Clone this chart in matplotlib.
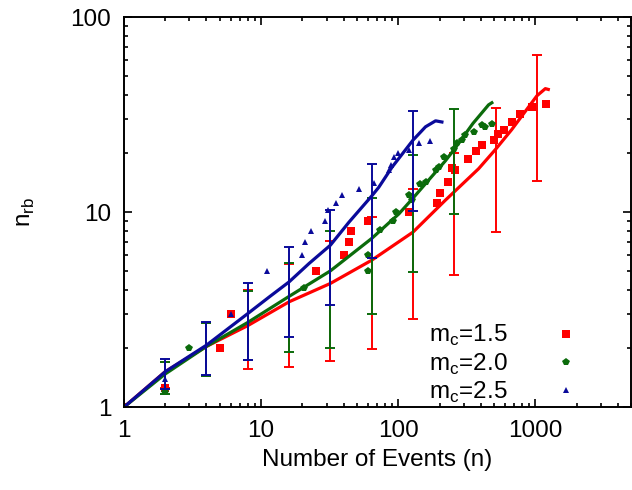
import matplotlib
matplotlib.use('Agg')
import matplotlib.pyplot as plt
from matplotlib.ticker import FixedLocator, FixedFormatter, LogLocator, NullFormatter

plt.rcParams['font.family'] = ['Liberation Sans', 'DejaVu Sans']

RED = '#ff0000'
GREEN = '#0b6b0b'
BLUE = '#0a0a9a'

# m_c = 1.5 (red squares)
red_x = [1, 2, 5, 6, 25, 40, 44, 45, 60, 120, 190, 200, 230, 245, 260, 320, 370,
         410, 500, 530, 590, 670, 770, 940, 1200]
red_y = [1.0, 1.25, 2.0, 3.0, 5.0, 6.0, 7.0, 8.0, 9.0, 10.0, 11.2, 12.5, 14.3, 16.8,
         16.5, 18.7, 20.6, 22.0, 23.4, 25.3, 26.4, 29.0, 32.0, 34.7, 35.8]
red_curve_x = [1, 2, 4, 8, 16, 32, 64, 128, 220, 385, 512, 671, 1024, 1180, 1240]
red_curve_y = [1.0, 1.52, 2.05, 2.62, 3.47, 4.31, 5.67, 7.9, 11.5, 16.7, 21.0, 26.5,
               39.5, 43.0, 42.6]
red_err_x = [2, 4, 8, 16, 32, 64, 128, 256, 512, 1024]
red_err_lo = [1.25, 1.45, 1.57, 1.60, 1.73, 1.98, 2.83, 4.75, 7.93, 14.4]
red_err_hi = [1.70, 2.70, 4.00, 5.40, 7.13, 9.5, 13.1, 20.0, 34.4, 63.8]

# m_c = 2.0 (green pentagons)
green_x = [1, 2, 3, 20.6, 60, 60, 74, 92, 96, 119, 126, 145, 158, 187, 197, 214,
           253, 268, 291, 308, 354, 407, 430, 481]
green_y = [1.0, 1.2, 2.0, 4.1, 5.0, 6.0, 8.1, 9.0, 10.0, 12.2, 11.5, 14.0, 14.3,
           16.4, 17.1, 19.2, 21.2, 22.5, 23.4, 24.8, 25.8, 27.9, 27.4, 28.3]
green_curve_x = [1, 2, 4, 8, 16, 32, 64, 101, 128, 220, 256, 350, 455, 481]
green_curve_y = [1.0, 1.48, 2.05, 2.72, 3.7, 5.0, 7.33, 9.8, 11.8, 18.3, 21.0, 28.5,
                 35.5, 36.4]
green_err_x = [2, 4, 8, 16, 32, 64, 128, 256]
green_err_lo = [1.17, 1.45, 1.74, 1.92, 2.02, 3.02, 4.94, 9.84]
green_err_hi = [1.70, 2.70, 3.95, 5.46, 8.00, 11.8, 19.6, 33.7]

# m_c = 2.5 (blue triangles)
blue_x = [1, 2, 6, 11, 20, 21, 23, 29, 31, 35, 39, 52, 66, 85, 88, 93, 100, 119, 141, 171]
blue_y = [1.0, 1.4, 3.0, 5.0, 6.0, 7.0, 8.0, 9.0, 10.2, 11.1, 12.3, 13.1, 14.1,
          16.4, 17.4, 19.2, 20.0, 20.8, 22.5, 23.2]
blue_curve_x = [1, 2, 4, 8, 11.5, 16, 22.4, 32, 43.8, 64, 72, 90, 128, 158, 187, 208]
blue_curve_y = [1.0, 1.52, 2.08, 3.02, 3.68, 4.39, 5.46, 6.77, 8.9, 12.1, 13.4, 17.0,
                23.4, 27.4, 29.4, 29.0]
blue_err_x = [2, 4, 8, 16, 32, 64, 128]
blue_err_lo = [1.24, 1.46, 1.74, 2.28, 3.33, 5.8, 10.1]
blue_err_hi = [1.76, 2.74, 4.34, 6.64, 10.2, 17.7, 33.0]

fig = plt.figure(figsize=(6.32, 4.90), dpi=100)
ax = fig.add_axes([0.196, 0.169, 0.803, 0.796])

series = [
    (red_x, red_y, red_curve_x, red_curve_y, red_err_x, red_err_lo, red_err_hi,
     RED, 's', 5.5, r'm$_\mathregular{c}$=1.5'),
    (green_x, green_y, green_curve_x, green_curve_y, green_err_x, green_err_lo,
     green_err_hi, GREEN, 'p', 5.5, r'm$_\mathregular{c}$=2.0'),
    (blue_x, blue_y, blue_curve_x, blue_curve_y, blue_err_x, blue_err_lo,
     blue_err_hi, BLUE, '^', 5, r'm$_\mathregular{c}$=2.5'),
]

handles = []
for xs, ys, cx, cy, ex, lo, hi, col, mk, ms, lab in series:
    mid = [(l * h) ** 0.5 for l, h in zip(lo, hi)]
    yerr = [[m - l for m, l in zip(mid, lo)], [h - m for h, m in zip(hi, mid)]]
    ax.errorbar(ex, mid, yerr=yerr, fmt='none', ecolor=col, elinewidth=1.4,
                capsize=3.5, capthick=1.4)
    ax.plot(cx, cy, color=col, lw=2.3, solid_joinstyle='round')
    h, = ax.plot(xs, ys, linestyle='none', marker=mk, ms=ms, color=col,
                 markeredgewidth=0, label=lab)
    handles.append(h)

ax.set_xscale('log')
ax.set_yscale('log')
ax.set_xlim(1, 5000)
ax.set_ylim(1, 100)

ax.xaxis.set_major_locator(FixedLocator([1, 10, 100, 1000]))
ax.xaxis.set_major_formatter(FixedFormatter(['1', '10', '100', '1000']))
ax.yaxis.set_major_locator(FixedLocator([1, 10, 100]))
ax.yaxis.set_major_formatter(FixedFormatter(['1', '10', '100']))
ax.xaxis.set_minor_locator(LogLocator(base=10, subs=range(2, 10)))
ax.yaxis.set_minor_locator(LogLocator(base=10, subs=range(2, 10)))
ax.xaxis.set_minor_formatter(NullFormatter())
ax.yaxis.set_minor_formatter(NullFormatter())

ax.tick_params(which='both', direction='in', top=True, right=True, labelsize=17.5,
               width=1.2)
ax.tick_params(which='major', length=6, pad=9)
ax.tick_params(which='minor', length=3)
for s in ax.spines.values():
    s.set_linewidth(1.4)

ax.set_xlabel('Number of Events (n)', fontsize=17.5, labelpad=5)
ax.set_ylabel(r'n$_\mathregular{rb}$', fontsize=17.5, labelpad=24)

ax.legend(handles=handles, loc='lower right', bbox_to_anchor=(0.928, -0.038),
          frameon=False, markerfirst=False, fontsize=17.5, handlelength=1.0,
          handletextpad=1.9, labelspacing=0.13, borderpad=0.2)

fig.savefig('out.png', dpi=100)
